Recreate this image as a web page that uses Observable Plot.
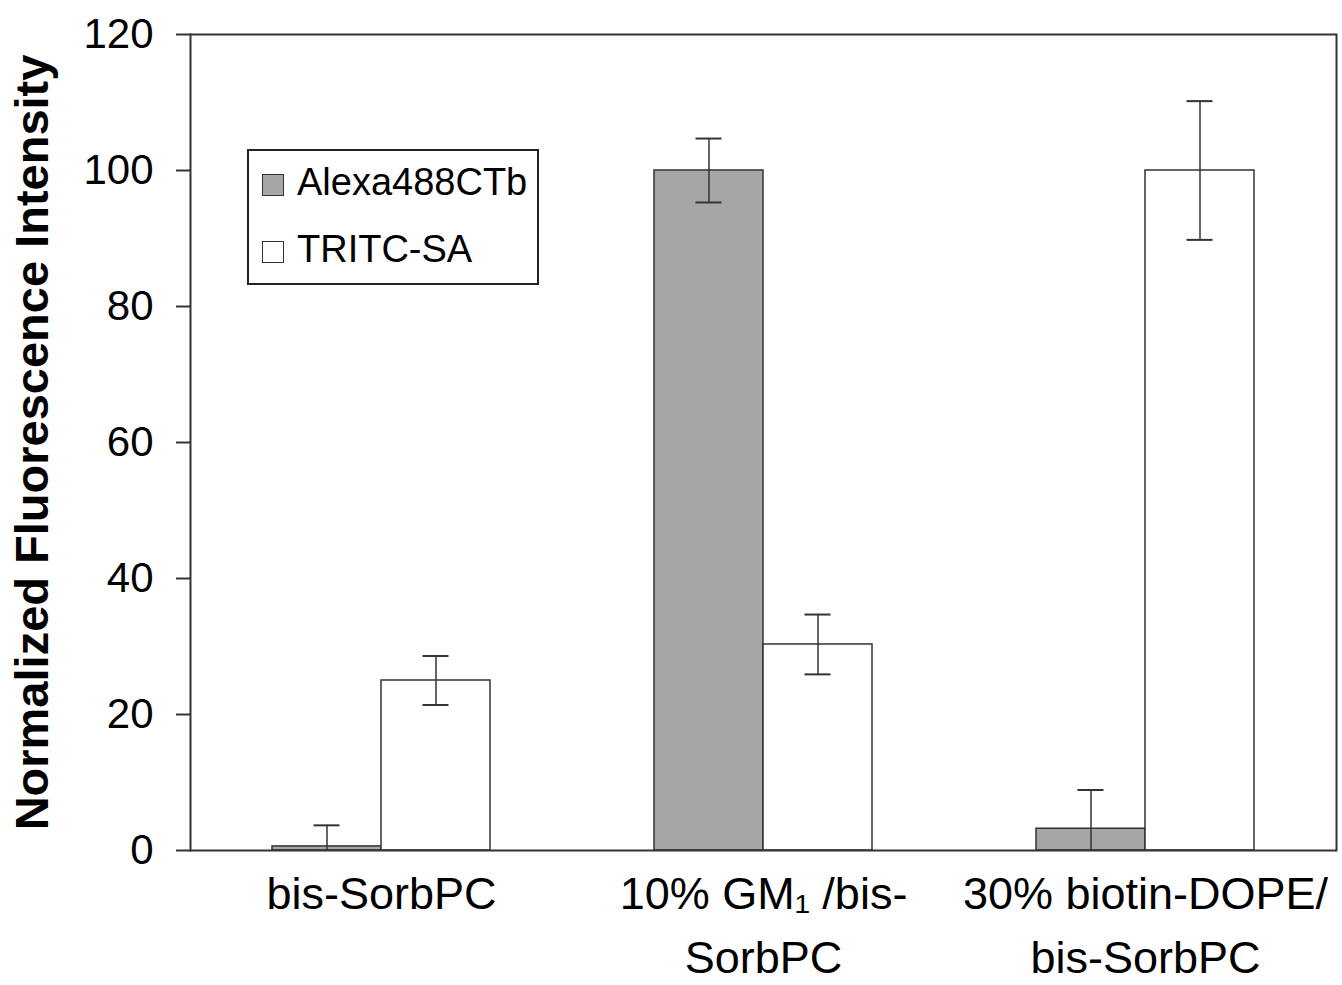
<!DOCTYPE html>
<html>
<head>
<meta charset="utf-8">
<script src="https://cdn.jsdelivr.net/npm/d3@7"></script>
<script src="https://cdn.jsdelivr.net/npm/@observablehq/plot@0.6"></script>
<style>
  html, body { margin: 0; padding: 0; background: #fff; }
  #wrap { position: relative; width: 1342px; height: 985px; font-family: 'Liberation Sans', Arial, sans-serif; }
  #legend { position: absolute; left: 247px; top: 149px; width: 288px; height: 132px; border: 2px solid #222; background: #fff; box-sizing: content-box; }
  .item { position: absolute; left: 0; height: 40px; font-size: 38px; color: #000; }
  .sw { position: absolute; left: 13px; top: 9px; width: 20px; height: 20px; border: 1.5px solid #333; }
  .lab { position: absolute; left: 48px; top: -3px; line-height: 40px; white-space: nowrap; }
</style>
</head>
<body>
<div id="wrap"></div>
<script>
const groups = ["bis-SorbPC", "10% GM\u2081 /bis-\nSorbPC", "30% biotin-DOPE/\nbis-SorbPC"];
const series = ["Alexa488CTb", "TRITC-SA"];
const alexaValues = [0.6, 100, 3.2];
const alexaErrors = [3.1, 4.7, 5.7];
const tritcValues = [25, 30.3, 100];
const tritcErrors = [3.6, 4.4, 10.2];
const yTicks = [0, 20, 40, 60, 80, 100, 120];
const seriesColors = ["#a6a6a6", "#ffffff"];

const rows = [];
groups.forEach((g, i) => {
  rows.push({group: g, series: series[0], value: alexaValues[i], err: alexaErrors[i]});
  rows.push({group: g, series: series[1], value: tritcValues[i], err: tritcErrors[i]});
});
rows.forEach(d => { d.hi = d.value + d.err; d.lo = Math.max(0, d.value - d.err); });

const plot = Plot.plot({
  width: 1342,
  height: 985,
  marginLeft: 189,
  marginRight: 5,
  marginTop: 34,
  marginBottom: 135,
  style: {fontFamily: "'Liberation Sans', Arial, sans-serif", color: "#000", background: "#fff", overflow: "visible"},
  fx: {domain: groups, padding: 0, label: null},
  x: {domain: series, paddingInner: 0, paddingOuter: 0.7394, axis: null},
  y: {domain: [0, 120]},
  color: {domain: series, range: seriesColors},
  marks: [
    Plot.barY(rows, {fx: "group", x: "series", y: "value", fill: "series", stroke: "#333", strokeWidth: 1.5}),
    Plot.ruleX(rows, {fx: "group", x: "series", y1: "lo", y2: "hi", stroke: "#333", strokeWidth: 1.5}),
    Plot.tickY(rows, {fx: "group", x: "series", y: "hi", insetLeft: 41.5, insetRight: 41.5, stroke: "#333", strokeWidth: 2}),
    Plot.tickY(rows.filter(d => d.value - d.err > 0), {fx: "group", x: "series", y: "lo", insetLeft: 41.5, insetRight: 41.5, stroke: "#333", strokeWidth: 2}),
    Plot.ruleY([0, 120], {stroke: "#333", strokeWidth: 2}),
    Plot.frame({anchor: "left", facetAnchor: "left", stroke: "#333", strokeWidth: 2}),
    Plot.frame({anchor: "right", facetAnchor: "right", stroke: "#333", strokeWidth: 2}),
    Plot.axisY({ticks: yTicks, tickSize: 14, tickPadding: 23, fontSize: 42, label: null, stroke: "#333", strokeWidth: 2}),
    Plot.axisFx({anchor: "bottom", tickSize: 0, tickPadding: 12, fontSize: 45, lineHeight: 1.44, label: null}),
    Plot.text(["Normalized Fluorescence Intensity"], {frameAnchor: "left", facetAnchor: "left", textAnchor: "middle", lineAnchor: "middle", rotate: -90, dx: -158, fontSize: 47, fontWeight: "bold", fill: "#000"})
  ]
});

const wrap = document.getElementById("wrap");
wrap.appendChild(plot);

const legend = document.createElement("div");
legend.id = "legend";
series.forEach((s, i) => {
  const item = document.createElement("div");
  item.className = "item";
  item.style.top = (i === 0 ? 14 : 81) + "px";
  item.style.width = "100%";
  const sw = document.createElement("div");
  sw.className = "sw";
  sw.style.background = seriesColors[i];
  const lab = document.createElement("span");
  lab.className = "lab";
  lab.textContent = s;
  item.appendChild(sw);
  item.appendChild(lab);
  legend.appendChild(item);
});
wrap.appendChild(legend);
</script>
</body>
</html>
